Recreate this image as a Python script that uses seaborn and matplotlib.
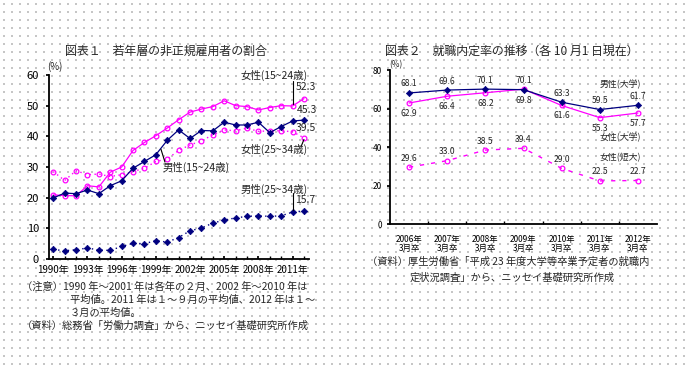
import numpy as np
import pandas as pd
import matplotlib
matplotlib.use("Agg")
import matplotlib.pyplot as plt
import seaborn as sns

# ---------------- data ----------------
years = list(range(1990, 2013))
female_15_24 = [20.9, 20.7, 20.6, 23.9, 23.5, 28.3, 30.0, 35.4, 38.0, 40.2, 42.7, 45.4,
                47.9, 48.9, 49.7, 51.6, 50.0, 49.7, 48.6, 49.4, 50.0, 49.9, 52.3]
male_15_24 = [19.9, 21.5, 21.3, 22.5, 21.3, 23.9, 25.5, 29.6, 31.8, 34.0, 38.7, 42.1,
              39.3, 41.9, 41.8, 44.6, 43.7, 43.7, 44.6, 41.2, 43.2, 45.0, 45.3]
female_25_34 = [28.5, 25.6, 28.8, 27.5, 27.7, 26.9, 27.5, 28.5, 29.6, 31.8, 32.6, 35.4,
                37.2, 38.5, 40.5, 42.1, 41.8, 42.7, 41.6, 41.8, 41.8, 41.5, 39.5]
male_25_34 = [3.1, 2.7, 3.0, 3.6, 2.9, 2.8, 4.1, 5.1, 5.0, 6.0, 5.5, 7.0,
              9.2, 10.1, 11.7, 12.7, 13.4, 13.9, 14.1, 13.9, 14.1, 15.3, 15.7]
left_xticks = [1990, 1993, 1996, 1999, 2002, 2005, 2008, 2011]

grad_cats = ["2006年\n3月卒", "2007年\n3月卒", "2008年\n3月卒", "2009年\n3月卒",
             "2010年\n3月卒", "2011年\n3月卒", "2012年\n3月卒"]
male_univ = [68.1, 69.6, 70.1, 69.8, 63.3, 59.5, 61.7]
female_univ = [62.9, 66.4, 68.2, 70.1, 61.6, 55.3, 57.7]
female_junior = [29.6, 33.0, 38.5, 39.4, 29.0, 22.5, 22.7]

NAVY = "#000080"
MAG = "#FF00FF"

sns.set_theme(style="white")
plt.rcParams["font.family"] = ["Noto Sans CJK JP", "DejaVu Sans"]
plt.rcParams["axes.unicode_minus"] = False

W, H = 689, 368
fig = plt.figure(figsize=(W / 100, H / 100), dpi=100, facecolor="white")

def P(x, y):
    return x / W, 1 - y / H

# background dotted texture
bg = fig.add_axes([0, 0, 1, 1])
bg.set_xlim(0, W)
bg.set_ylim(H, 0)
gx, gy = np.meshgrid(np.arange(3.5, W, 8), np.arange(3.5, H, 8))
bg.scatter(gx.ravel(), gy.ravel(), s=0.55, c="#c6c6c6", marker="s", linewidths=0)
bg.axis("off")

# ---------------- left chart ----------------
ax1 = fig.add_axes([48.7 / W, 1 - 259 / H, (309 - 48.7) / W, (259 - 75) / H])
ax1.set_facecolor("none")
df1 = pd.DataFrame({"year": years, "f1524": female_15_24, "m1524": male_15_24,
                    "f2534": female_25_34, "m2534": male_25_34})

sns.lineplot(data=df1, x="year", y="f1524", ax=ax1, color=MAG, lw=0.9,
             marker="o", markersize=3.4, markerfacecolor="none",
             markeredgecolor=MAG, markeredgewidth=0.9)
sns.lineplot(data=df1, x="year", y="f2534", ax=ax1, color=MAG, lw=1.0,
             linestyle=(0, (1, 2.5)),
             marker="o", markersize=3.4, markerfacecolor="none",
             markeredgecolor=MAG, markeredgewidth=0.9)
sns.lineplot(data=df1, x="year", y="m1524", ax=ax1, color=NAVY, lw=0.9,
             marker="D", markersize=3.3, markerfacecolor=NAVY,
             markeredgecolor=NAVY, markeredgewidth=0.5)
sns.lineplot(data=df1, x="year", y="m2534", ax=ax1, color=NAVY, lw=1.0,
             linestyle=(0, (1, 2.5)),
             marker="D", markersize=3.3, markerfacecolor=NAVY,
             markeredgecolor=NAVY, markeredgewidth=0.5)

ax1.set_xlim(1989.6, 2012.44)
ax1.set_ylim(0, 60)
ax1.set_yticks(range(0, 61, 10))
ax1.set_xticks(left_xticks)
ax1.set_xticklabels([f"{y}年" for y in left_xticks])
ax1.set_xticks(years, minor=True)
ax1.set_xlabel("")
ax1.set_ylabel("")
for s in ["top", "right"]:
    ax1.spines[s].set_visible(False)
for s in ["left", "bottom"]:
    ax1.spines[s].set_color("black")
    ax1.spines[s].set_linewidth(1.3)
ax1.tick_params(axis="y", which="major", left=True, length=2, direction="out",
                labelsize=8, pad=5, colors="black")
ax1.tick_params(axis="x", which="both", bottom=True, length=2.5, direction="in",
                labelsize=7, pad=4, colors="black")

lab_fs = 7.5
ax1.text(2012.35, 59.8, "女性(15~24歳)", ha="right", va="center", fontsize=lab_fs)
ax1.plot([2011, 2011], [58.2, 50.4], color="black", lw=0.8)
ax1.text(2011.25, 56.2, f"{female_15_24[-1]:.1f}", ha="left", va="center", fontsize=lab_fs)
ax1.text(2011.35, 48.5, f"{male_15_24[-1]:.1f}", ha="left", va="center", fontsize=lab_fs)
ax1.text(2011.25, 42.7, f"{female_25_34[-1]:.1f}", ha="left", va="center", fontsize=lab_fs)
ax1.plot([2012, 2011.75], [39.0, 36.7], color="black", lw=0.8)
ax1.text(2012.35, 35.6, "女性(25~34歳)", ha="right", va="center", fontsize=lab_fs)
ax1.plot([1999.45, 1999.8], [35.8, 31.6], color="black", lw=0.8)
ax1.text(1999.6, 29.8, "男性(15~24歳)", ha="left", va="center", fontsize=lab_fs)
ax1.text(2012.35, 22.6, "男性(25~34歳)", ha="right", va="center", fontsize=lab_fs)
ax1.plot([2011.05, 2011.05], [21.4, 15.9], color="black", lw=0.8)
ax1.text(2011.25, 19.3, f"{male_25_34[-1]:.1f}", ha="left", va="center", fontsize=lab_fs)

fig.text(*P(47, 67), "(%)", ha="left", va="center", fontsize=7)
fig.text(*P(65, 51), "図表１　若年層の非正規雇用者の割合", ha="left", va="center", fontsize=8.6)

note_fs = 7.4
fig.text(*P(22, 287), "（注意）1990 年～2001 年は各年の２月、2002 年～2010 年は", ha="left", va="center", fontsize=note_fs)
fig.text(*P(70, 300), "平均値。2011 年は１～９月の平均値、2012 年は１～", ha="left", va="center", fontsize=note_fs)
fig.text(*P(70, 313), "３月の平均値。", ha="left", va="center", fontsize=note_fs)
fig.text(*P(22, 326), "（資料）総務省「労働力調査」から、ニッセイ基礎研究所作成", ha="left", va="center", fontsize=note_fs)

# ---------------- right chart ----------------
ax2 = fig.add_axes([390 / W, 1 - 224.3 / H, (657 - 390) / W, (224.3 - 70) / H])
ax2.set_facecolor("none")
xi = list(range(len(grad_cats)))
df2 = pd.DataFrame({"x": xi, "m": male_univ, "f": female_univ, "j": female_junior})

sns.lineplot(data=df2, x="x", y="f", ax=ax2, color=MAG, lw=0.9,
             marker="o", markersize=3.4, markerfacecolor="none",
             markeredgecolor=MAG, markeredgewidth=0.9)
sns.lineplot(data=df2, x="x", y="m", ax=ax2, color=NAVY, lw=0.9,
             marker="D", markersize=3.2, markerfacecolor=NAVY,
             markeredgecolor=NAVY, markeredgewidth=0.5)
sns.lineplot(data=df2, x="x", y="j", ax=ax2, color=MAG, lw=1.0,
             linestyle=(0, (3, 5)),
             marker="o", markersize=3.4, markerfacecolor="none",
             markeredgecolor=MAG, markeredgewidth=0.9)

ax2.set_xlim(-0.5, len(grad_cats) - 0.5)
ax2.set_ylim(0, 80)
ax2.set_yticks(range(0, 81, 20))
ax2.set_xticks(xi)
ax2.set_xticklabels(grad_cats, linespacing=1.0)
ax2.set_xticks([i + 0.5 for i in xi[:-1]], minor=True)
ax2.set_xlabel("")
ax2.set_ylabel("")
for s in ["top", "right"]:
    ax2.spines[s].set_visible(False)
for s in ["left", "bottom"]:
    ax2.spines[s].set_color("black")
    ax2.spines[s].set_linewidth(1.3)
ax2.tick_params(axis="y", which="major", left=True, length=2, direction="out",
                labelsize=6, pad=4, colors="black")
ax2.tick_params(axis="x", which="major", bottom=False, labelsize=6, pad=2, colors="black")
ax2.tick_params(axis="x", which="minor", bottom=True, length=2.5, direction="in", colors="black")

val_fs = 6.2
for i in xi:
    hi = max(male_univ[i], female_univ[i])
    lo = min(male_univ[i], female_univ[i])
    ax2.annotate(f"{hi:.1f}", (i, hi), xytext=(0, 6.5), textcoords="offset points",
                 ha="center", va="center", fontsize=val_fs)
    ax2.annotate(f"{lo:.1f}", (i, lo), xytext=(0, -7.5), textcoords="offset points",
                 ha="center", va="center", fontsize=val_fs)
    ax2.annotate(f"{female_junior[i]:.1f}", (i, female_junior[i]), xytext=(0, 6.5),
                 textcoords="offset points", ha="center", va="center", fontsize=val_fs)

ax2.text(5.0, 72.7, "男性(大学)", ha="left", va="center", fontsize=6.4)
ax2.text(5.0, 44.8, "女性(大学)", ha="left", va="center", fontsize=6.4)
ax2.text(5.0, 34.5, "女性(短大)", ha="left", va="center", fontsize=6.4)

fig.text(*P(389, 65), "(%)", ha="left", va="center", fontsize=6)
fig.text(*P(385, 51), "図表２　就職内定率の推移（各 10 月1 日現在）", ha="left", va="center", fontsize=8.6)
fig.text(*P(367, 262), "（資料）厚生労働省「平成 23 年度大学等卒業予定者の就職内", ha="left", va="center", fontsize=note_fs)
fig.text(*P(410, 278), "定状況調査」から、ニッセイ基礎研究所作成", ha="left", va="center", fontsize=note_fs)

fig.savefig("out.png", dpi=100, facecolor="white")
